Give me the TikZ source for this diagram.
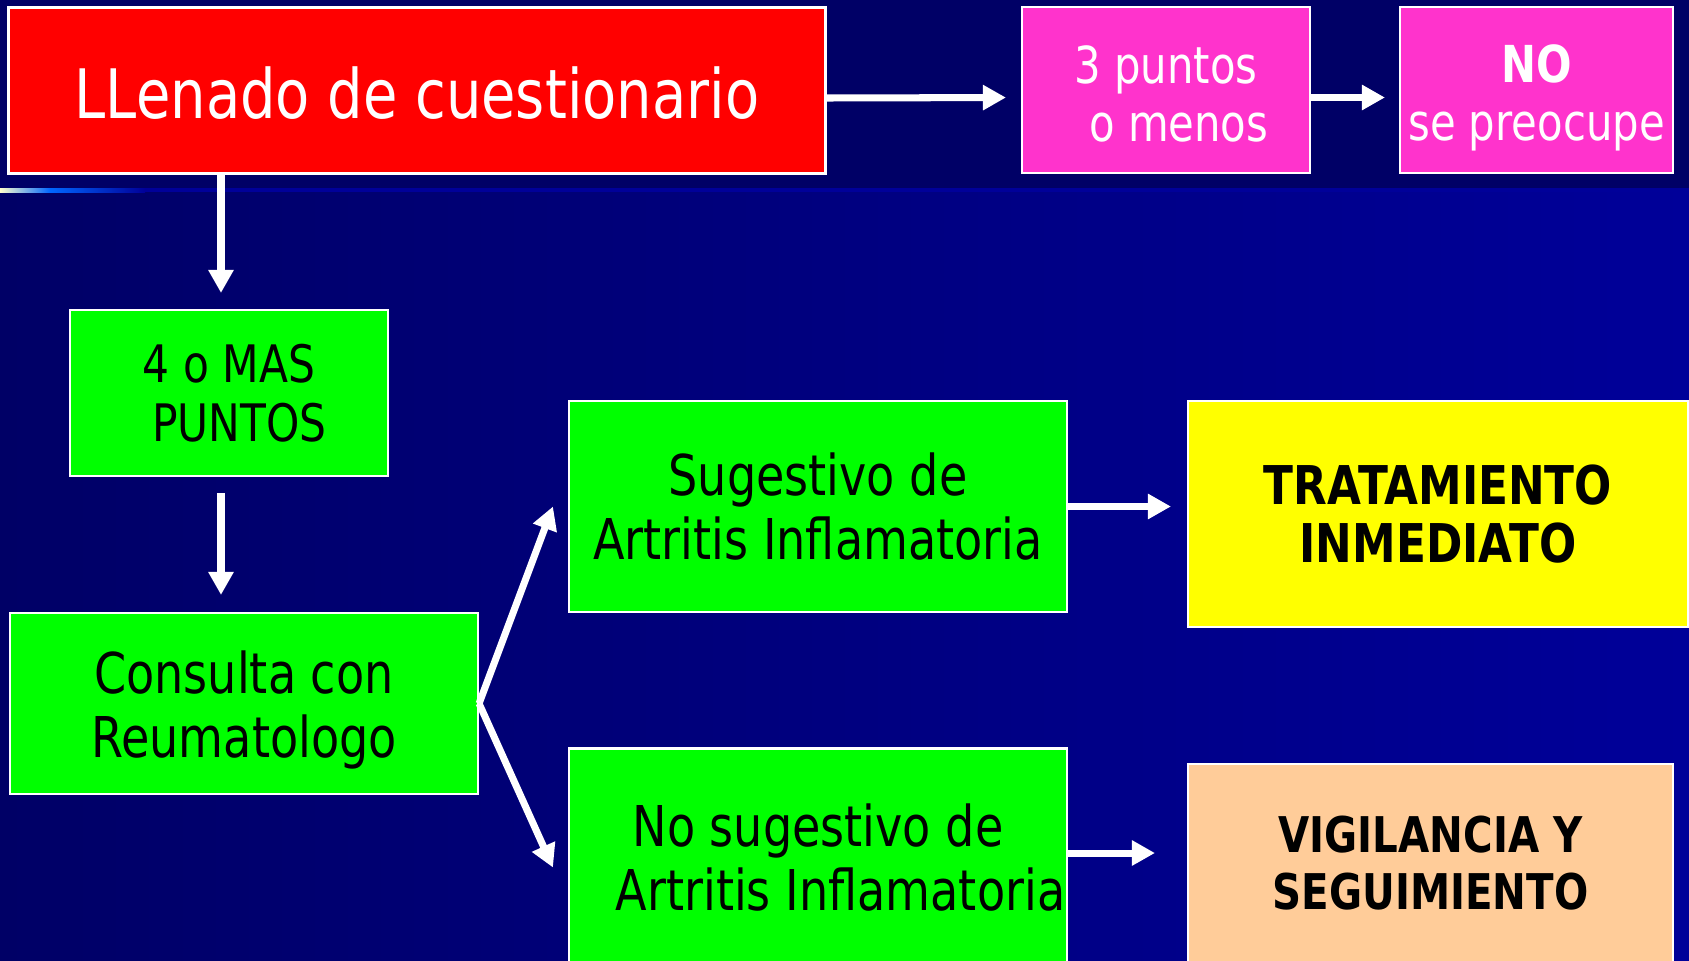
\documentclass[tikz,border=0pt]{standalone}
\usepackage{fontspec}
\setmainfont{DejaVu Sans}[FakeStretch=0.82]
\usetikzlibrary{arrows.meta}

\definecolor{navytop}{HTML}{000066}
\definecolor{navyright}{HTML}{000099}
\definecolor{glowcream}{HTML}{FFFFCC}
\definecolor{glowblue}{HTML}{0066FF}
\definecolor{boxred}{HTML}{FF0000}
\definecolor{boxpink}{HTML}{FF33CC}
\definecolor{boxgreen}{HTML}{00FF00}
\definecolor{boxyellow}{HTML}{FFFF00}
\definecolor{boxpeach}{HTML}{FFCC99}

\begin{document}
\begin{tikzpicture}[thick,
  box/.style={draw=white, line width=0.6pt, align=center, inner sep=0pt},
  arr/.style={draw=white, line width=2pt, -{Triangle[length=2.3mm,width=2.4mm]}}]
\useasboundingbox (0,0) rectangle (16.89,9.6);
\clip (0,0) rectangle (16.89,9.6);
\fill [navytop] (0,7.72) rectangle (16.89,9.6);
\shade [left color=navytop, right color=navyright] (0,0) rectangle (16.89,7.68);
\fill [navyright] (0,7.68) rectangle (16.89,7.72);
\shade [left color=glowcream, right color=glowblue] (0,7.68) rectangle (0.5,7.72);
\shade [left color=glowblue, right color=navyright] (0.5,7.68) rectangle (1.45,7.72);

\node [box, fill=boxred, text=white, minimum width=8.17cm, minimum height=1.66cm,
  font=\fontsize{19.4}{22}\selectfont] (cuest) at (4.17,8.695) {\rule{0pt}{16pt}LLenado de cuestionario};
\node [box, fill=boxpink, text=white, minimum width=2.88cm, minimum height=1.66cm,
  font=\fontsize{14.5}{16.5}\selectfont] (tres) at (11.66,8.70) {\rule{0pt}{13pt}3 puntos\\\hspace*{0.5em}o menos};
\node [box, fill=boxpink, text=white, minimum width=2.73cm, minimum height=1.66cm,
  font=\fontsize{14.5}{16.5}\selectfont] (nopre) at (15.365,8.70) {\rule{0pt}{15pt}\textbf{NO}\\se preocupe};
\node [box, fill=boxgreen, minimum width=3.18cm, minimum height=1.66cm,
  font=\fontsize{14.7}{16.8}\selectfont] (cuatro) at (2.29,5.67) {4 o MAS\\\hspace*{0.4em}PUNTOS};
\node [box, fill=boxgreen, minimum width=4.68cm, minimum height=1.81cm,
  font=\fontsize{16}{18.2}\selectfont] (consulta) at (2.44,2.565) {\rule{0pt}{15.9pt}Consulta con\\Reumatologo};
\node [box, fill=boxgreen, minimum width=4.98cm, minimum height=2.11cm,
  font=\fontsize{16}{18.2}\selectfont] (sug) at (8.18,4.535) {Sugestivo de\\Artritis Inflamatoria};
\node [box, fill=boxgreen, minimum width=4.98cm, minimum height=2.18cm,
  font=\fontsize{16}{18.2}\selectfont] (nosug) at (8.18,1.025) {No sugestivo de\\\hspace*{0.8em}Artritis Inflamatoria};
\node [box, fill=boxyellow, minimum width=5cm, minimum height=2.26cm,
  font=\fontsize{15.2}{16.4}\selectfont\bfseries] (trat) at (14.38,4.46) {TRATAMIENTO\\INMEDIATO};
\node [box, fill=boxpeach, minimum width=4.85cm, minimum height=1.98cm,
  font=\fontsize{14}{16}\selectfont\bfseries] (vig) at (14.305,0.97) {VIGILANCIA Y\\SEGUIMIENTO};

\draw [arr, shorten >=1.5mm] ([yshift=-0.75mm]cuest.east) -- ([yshift=-0.75mm]tres.west);
\draw [arr, shorten >=1.4mm] ([yshift=-0.75mm]tres.east) -- ([yshift=-0.75mm]nopre.west);
\draw [arr, shorten >=1.6mm] ([xshift=-0.8mm]cuest.south -| cuatro.north) -- ([xshift=-0.8mm]cuatro.north);
\draw [arr, shorten <=1.6mm, shorten >=1.7mm] ([xshift=-0.8mm]cuatro.south) -- ([xshift=-0.8mm]cuatro.south |- consulta.north);
\draw [arr] (consulta.east) -- ([xshift=-1.5mm]sug.west);
\draw [arr] (consulta.east) -- ([xshift=-1.5mm,yshift=-1mm]nosug.west);
\draw [arr, shorten >=1.6mm] (sug.east) -- (sug.east -| trat.west);
\draw [arr, shorten >=3.2mm] ([yshift=1mm]nosug.east |- vig.west) -- ([yshift=1mm]vig.west);
\end{tikzpicture}
\end{document}
